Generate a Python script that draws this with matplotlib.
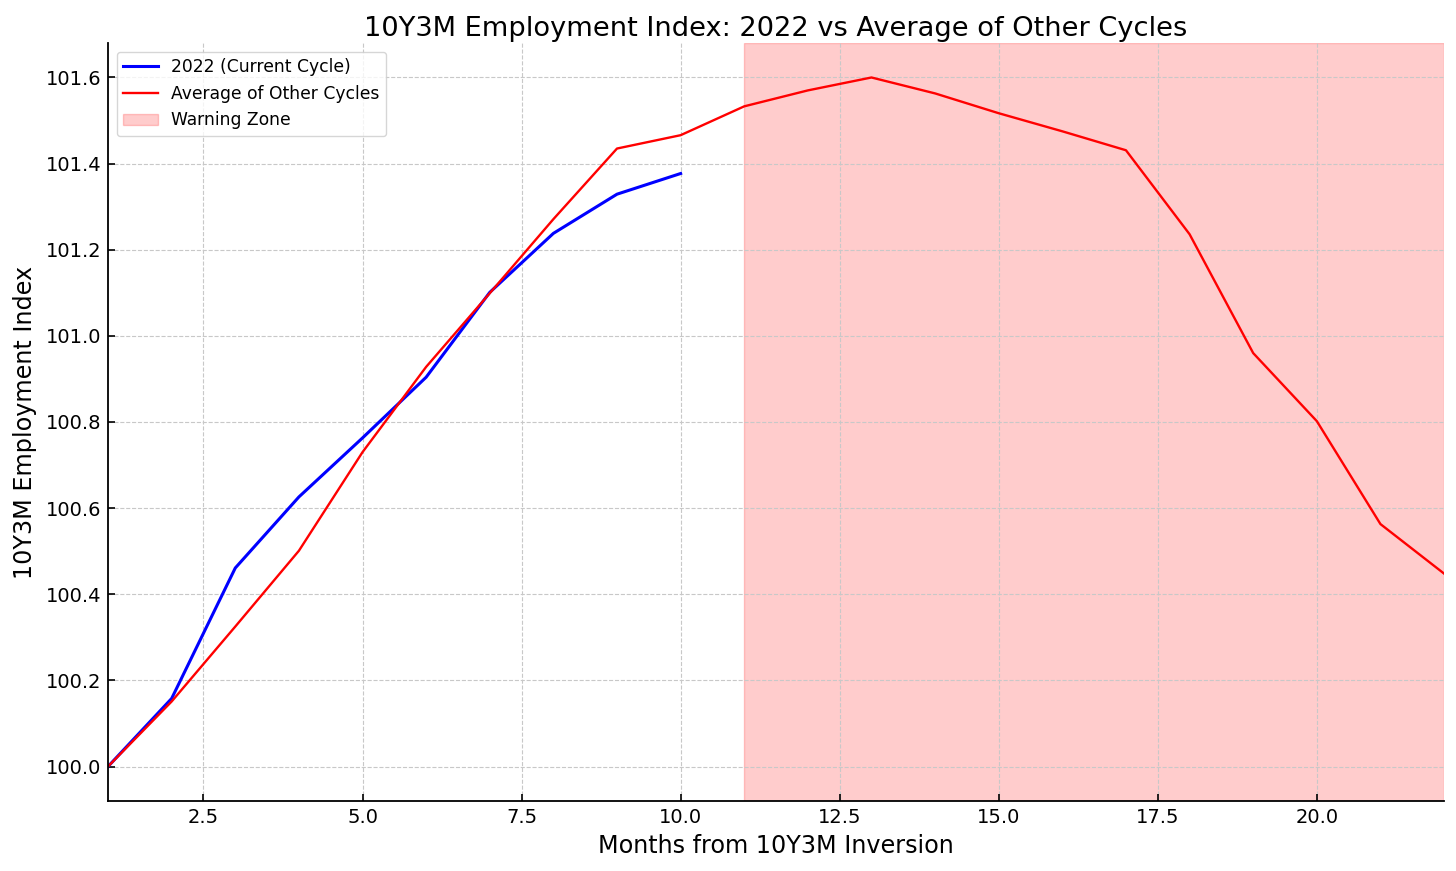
import matplotlib
matplotlib.use("Agg")
import matplotlib.pyplot as plt

months_current = [1, 2, 3, 4, 5, 6, 7, 8, 9, 10]
index_current = [100.0, 100.158, 100.461, 100.626, 100.763, 100.904, 101.101, 101.238, 101.329, 101.377]

months_avg = list(range(1, 23))
index_avg = [100.0, 100.151, 100.325, 100.501, 100.730, 100.928, 101.099, 101.271, 101.435, 101.466,
             101.533, 101.570, 101.600, 101.563, 101.517, 101.475, 101.431, 101.236, 100.960, 100.802,
             100.563, 100.448]

warning_start, warning_end = 11, 22

fig = plt.figure(figsize=(14.56, 8.71), dpi=100)
ax = fig.add_axes([0.0742, 0.0804, 0.9176, 0.8702])

ax.plot(months_current, index_current, color='blue', linewidth=2.2, label='2022 (Current Cycle)')
ax.plot(months_avg, index_avg, color='red', linewidth=1.7, label='Average of Other Cycles')
ax.axvspan(warning_start, warning_end, color='red', alpha=0.2, label='Warning Zone')

ax.set_xlim(1, 22)
ax.set_title('10Y3M Employment Index: 2022 vs Average of Other Cycles', fontsize=19.6, pad=5)
ax.set_xlabel('Months from 10Y3M Inversion', fontsize=17.2, labelpad=5)
ax.set_ylabel('10Y3M Employment Index', fontsize=17.2, labelpad=6)
ax.tick_params(direction='in', labelsize=14, width=1.2, length=5, pad=5)
ax.grid(True, linestyle='--', color='#c8c8c8', linewidth=0.8)
for s in ['top', 'right']:
    ax.spines[s].set_visible(False)
for s in ['left', 'bottom']:
    ax.spines[s].set_linewidth(1.3)
ax.legend(loc='upper left', fontsize=12.3)

fig.savefig('out.png', dpi=100)
